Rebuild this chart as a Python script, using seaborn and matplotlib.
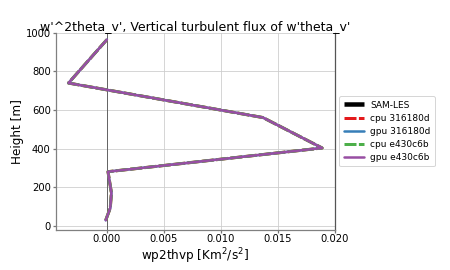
import matplotlib
matplotlib.use("Agg")
import matplotlib.pyplot as plt
import seaborn as sns
import numpy as np
import pandas as pd

# Data (height in m, wp2thvp in K m^2/s^2)
height = [28, 92, 170, 280, 403, 561, 740, 965]
wp2thvp = [-0.0001, 0.0003, 0.0004, 0.0001, 0.0189, 0.0137, -0.00337, 0.0]

series_names = ["cpu 316180d", "gpu 316180d", "cpu e430c6b", "gpu e430c6b"]
series_colors = ["#e41a1c", "#377eb8", "#4daf4a", "#984ea3"]
series_dashed = [True, False, True, False]
series_widths = [3.0, 2.5, 3.0, 2.5]

sns.set_theme(style="whitegrid")
plt.rcParams['font.family'] = ['DejaVu Sans']
plt.rcParams['text.color'] = 'black'
plt.rcParams['axes.labelcolor'] = 'black'
plt.rcParams['xtick.color'] = 'black'
plt.rcParams['ytick.color'] = 'black'

fig = plt.figure(figsize=(6.25, 3.75), dpi=72)
ax = fig.add_axes([0.124, 0.15, 0.62, 0.728])
ax.set_facecolor("white")

ax.plot([], [], color="black", lw=4.5, solid_capstyle="butt", label="SAM-LES")
for name, col, dashed, lw in zip(series_names, series_colors, series_dashed, series_widths):
    df = pd.DataFrame({"x": wp2thvp, "y": height})
    sns.lineplot(data=df, x="x", y="y", sort=False, estimator=None, ax=ax,
                 color=col, lw=lw, label=name, dashes=False)
    line = ax.get_lines()[-1]
    if dashed:
        line.set_dashes((4, 0.8))

ax.axvline(0, color="#666666", lw=1, zorder=1)
ax.set_ylim(-20, 1000)
ax.set_yticks([0, 200, 400, 600, 800, 1000])
ax.set_xticks([0.0, 0.005, 0.010, 0.015, 0.020])
ax.set_xticklabels(["0.000", "0.005", "0.010", "0.015", "0.020"])
ax.tick_params(labelsize=10, length=3, color="#777777", pad=2, left=True, bottom=True)
ax.grid(True, color="#cccccc", lw=0.8)
for s in ["left", "bottom"]:
    ax.spines[s].set_color("#808080")
ax.spines["right"].set_color("#555555")
ax.spines["top"].set_visible(False)

ax.set_title("w'^2theta_v', Vertical turbulent flux of w'theta_v'", fontsize=12.5, pad=3)
ax.set_xlabel("wp2thvp [Km$^2$/s$^2$]", fontsize=12, labelpad=2)
ax.set_ylabel("Height [m]", fontsize=12, labelpad=2)

leg = ax.legend(loc="center left", bbox_to_anchor=(1.0, 0.5), fontsize=9,
                frameon=True, handlelength=2.2, borderpad=0.5, labelspacing=0.45,
                handletextpad=0.7)
leg.get_frame().set_edgecolor("#cccccc")
for t in leg.get_texts():
    t.set_color("black")

fig.savefig("out.png", dpi=72, facecolor="white")
